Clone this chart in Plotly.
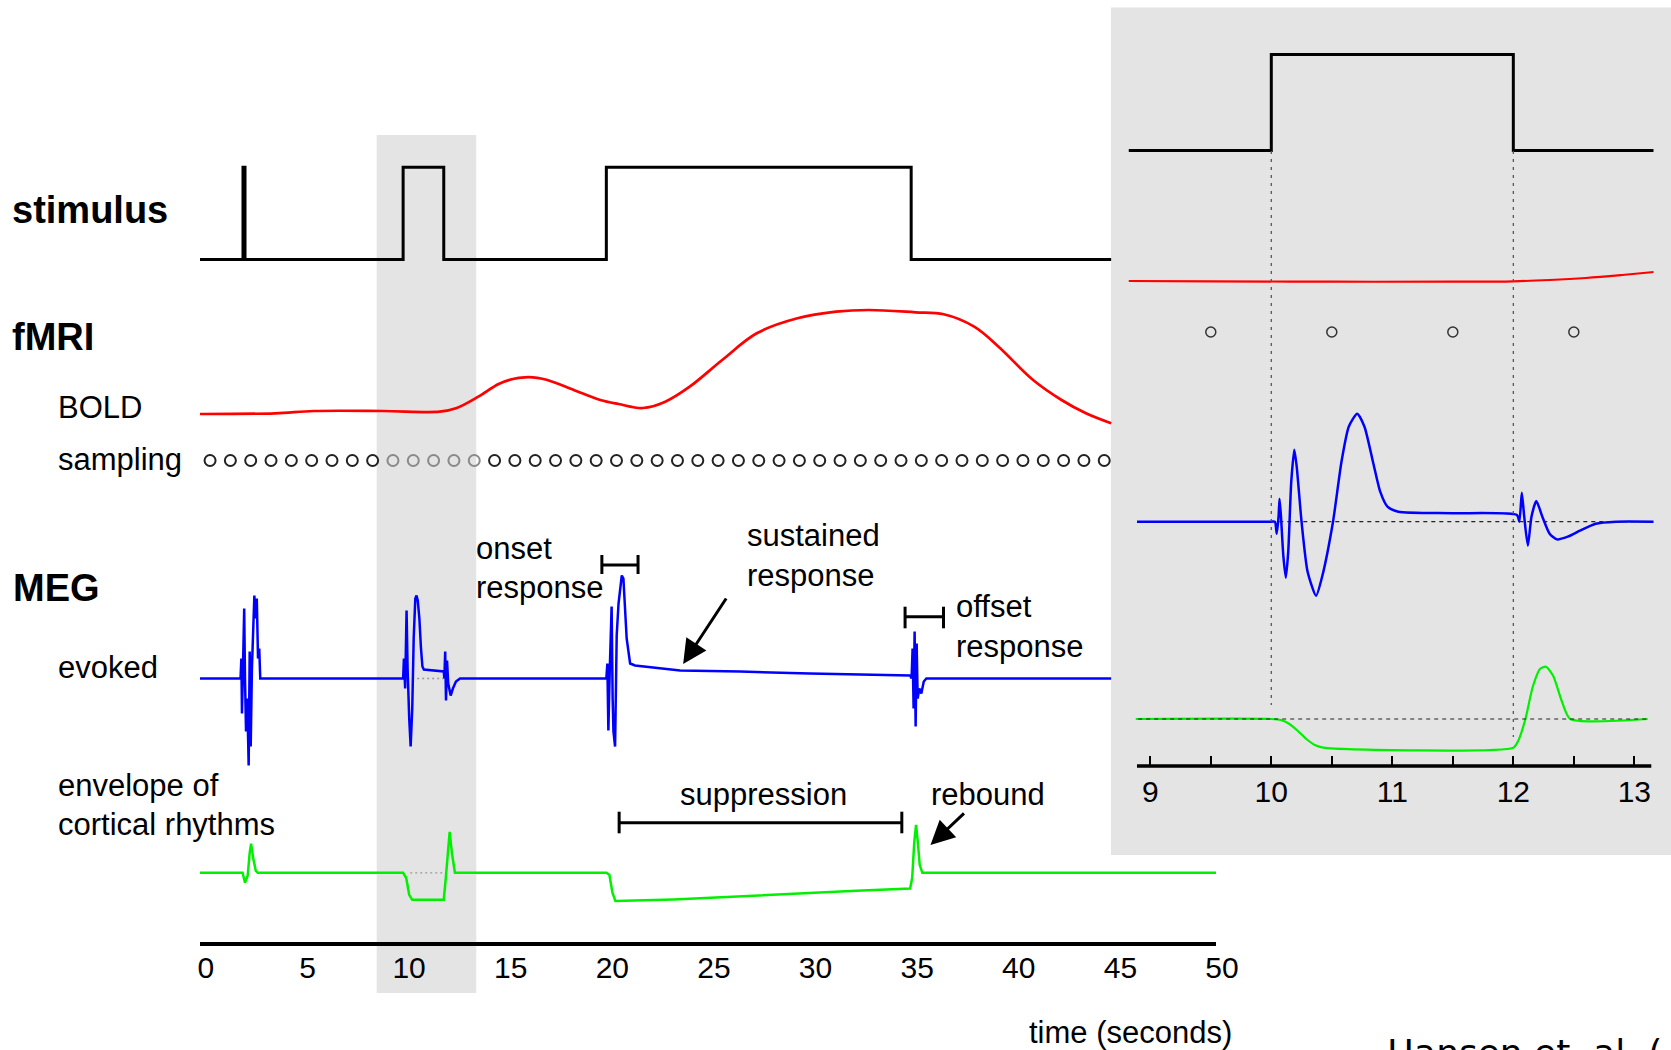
import plotly.graph_objects as go

# ---------------- data (time in seconds, amplitudes in arbitrary units) ----------------
# main time course
stim_t = [0, 2.12, 2.12, 2.22, 2.22, 10, 10, 12, 12, 20, 20, 35, 35, 44.84]
stim_v = [0, 0, 1, 1, 0, 0, 1, 1, 0, 0, 1, 1, 0, 0]

bold_t = [0, 3.7, 5.6, 9.0, 11.8, 12.6, 13.7, 14.7, 15.4, 16.0, 16.6, 17.1, 18.4, 19.7, 20.6,
          21.8, 22.9, 24.1, 25.7, 27.4, 29.4, 31.3, 32.9, 35.2, 36.6, 38.1, 39.3, 41.0, 42.4, 43.6, 44.84]
bold_v = [0, 0.7, 3, 3, 2.3, 5.7, 17.3, 30, 35, 36.7, 36.2, 34, 24, 14, 10,
          6, 12.3, 27.3, 54, 80.7, 95.7, 102.3, 104, 101.7, 99.7, 87.3, 67.3, 34, 14, 0.7, -9.3]

sample_t = [0.5, 1.5, 2.5, 3.5, 4.5, 5.5, 6.5, 7.5, 8.5, 9.5, 10.5, 11.5, 12.5, 13.5, 14.5,
            15.5, 16.5, 17.5, 18.5, 19.5, 20.5, 21.5, 22.5, 23.5, 24.5, 25.5, 26.5, 27.5, 28.5,
            29.5, 30.5, 31.5, 32.5, 33.5, 34.5, 35.5, 36.5, 37.5, 38.5, 39.5, 40.5, 41.5, 42.5,
            43.5, 44.5]

evoked_t = [0, 2.00, 2.04, 2.07, 2.12, 2.18, 2.22, 2.27, 2.33, 2.40, 2.45, 2.50, 2.56, 2.62, 2.68,
            2.74, 2.80, 2.86, 2.92, 2.97, 3.02,
            10.00, 10.04, 10.06, 10.10, 10.17, 10.22, 10.30, 10.37, 10.45, 10.52, 10.60, 10.66,
            10.72, 10.80, 10.88, 10.95, 11.02, 12.00, 12.03, 12.07, 12.11, 12.16, 12.22, 12.34,
            12.45, 12.60, 12.80,
            20.00, 20.05, 20.10, 20.17, 20.26, 20.31, 20.35, 20.43, 20.51, 20.60, 20.68, 20.76,
            20.84, 20.92, 21.00, 21.17, 21.41, 23.63, 26.58, 30.0, 34.95,
            35.02, 35.07, 35.12, 35.17, 35.22, 35.27, 35.32, 35.40, 35.50, 35.62, 35.75, 44.84]
evoked_v = [0, 0, 20, -35, 10, 70, 0, -53, -20, -87, 27, -68, 10, 60, 83,
            60, 80, 20, 30, 0, 0,
            0, 20, -5, -10, 68, 10, -40, -68, -30, 40, 80, 83,
            78, 60, 30, 12, 9, 7, 0, 27, -22, 18, -5, -17,
            -10, -3, 0,
            0, 15, -52, 10, 72, -20, -53, -68, 43, 75, 90, 103,
            100, 75, 40, 15, 13, 8, 7, 5, 3,
            0, 30, -30, 47, -48, 35, -20, -10, -15, -3, 0, 0]

env_t = [0, 2.0, 2.1, 2.22, 2.35, 2.45, 2.52, 2.62, 2.75, 2.85,
         10.0, 10.15, 10.3, 10.45, 12.0, 12.1, 12.2, 12.29, 12.4, 12.55,
         20.0, 20.15, 20.3, 20.45, 23.3, 27.5, 32.3, 34.95, 35.05, 35.15, 35.24, 35.33, 35.42,
         35.55, 50.0]
env_v = [0, 0, 0, -10, -3, 20, 29, 15, 2, 0,
         0, -5, -22, -27, -27, -5, 25, 41, 20, 0,
         0, -2, -20, -28.3, -26.7, -22.3, -18, -15.7, -5, 30, 48, 30, 8,
         0, 0]

# inset (zoom on 9-13 s)
in_stim_t = [8.82, 10, 10, 12, 12, 13.16]
in_stim_v = [0, 0, 1, 1, 0, 0]

in_bold_t = [8.82, 9.5, 10.5, 11.5, 12.0, 12.3, 12.6, 12.9, 13.16]
in_bold_v = [0, -0.3, -0.7, -0.7, -0.3, 1.0, 3.0, 6.0, 9.0]

in_sample_t = [9.5, 10.5, 11.5, 12.5]

in_evoked_t = [8.89, 10.00, 10.03, 10.045, 10.06, 10.068, 10.08, 10.10, 10.12, 10.14, 10.165,
               10.19, 10.21, 10.25, 10.30, 10.37, 10.42, 10.51, 10.58, 10.64, 10.71, 10.77,
               10.84, 10.90, 10.96, 11.05, 11.5, 12.03, 12.05, 12.07, 12.09, 12.12, 12.15,
               12.19, 12.24, 12.30, 12.36, 12.45, 12.55, 12.68, 12.85, 13.16]
in_evoked_v = [0, 0, 0, -12, 5, 23, 5, -35, -56, -30, 40,
               72, 55, 0, -50, -74, -55, 0, 60, 95, 108, 95,
               60, 30, 15, 10, 8.5, 6.7, 0, 29, 5, -24, 5,
               20.7, 5, -12, -17.7, -15, -9, -2, 0, 0]

in_env_t = [8.88, 10.0, 10.08, 10.15, 10.22, 10.29, 10.36, 10.43, 12.0, 12.04, 12.1, 12.16,
            12.22, 12.27, 12.33, 12.4, 12.47, 13.11]
in_env_v = [0, 0, -1, -5, -12, -20, -26, -28.7, -28.7, -22, 0, 32,
            50, 52.3, 43, 18, 0, 0]

main_ticks = [0, 5, 10, 15, 20, 25, 30, 35, 40, 45, 50]
inset_ticks = [9, 9.5, 10, 10.5, 11, 11.5, 12, 12.5, 13]
inset_ticktext = ["9", "", "10", "", "11", "", "12", "", "13"]

# ---------------- layout constants (pixels) ----------------
W, H = 1671, 1050
FONT = "Liberation Sans, Arial, Helvetica, sans-serif"
BLUE, RED, GREEN = "#0000ff", "#ff0000", "#00f000"
GRAY_BG = "#e4e4e4"

# row baselines (px from top) and scale (px per unit)
MAIN = dict(stim=(259.5, 92.2), bold=(414.0, 1.0), samp=460.5, evoked=(678.5, 1.0), env=(872.8, 1.0))
INSET = dict(stim=(150.5, 96.0), bold=(281.0, 1.0), samp=332.0, evoked=(521.7, 1.0), env=(719.0, 1.0))


def px(vals, row):
    base, scale = row
    return [base - scale * v for v in vals]


def fx(x):
    return x / W


def fy(y):
    return 1 - y / H


fig = go.Figure()

# ---- main traces ----
fig.add_trace(go.Scatter(x=stim_t, y=px(stim_v, MAIN["stim"]), mode="lines",
                         line=dict(color="black", width=3)))
fig.add_trace(go.Scatter(x=bold_t, y=px(bold_v, MAIN["bold"]), mode="lines",
                         line=dict(color=RED, width=2.7, shape="spline", smoothing=1.0)))
samp_cols = ["#8a8a8a" if 8.7 < t < 13.6 else "#222222" for t in sample_t]
fig.add_trace(go.Scatter(x=sample_t, y=[MAIN["samp"]] * len(sample_t), mode="markers",
                         marker=dict(symbol="circle-open", size=11, color=samp_cols,
                                     line=dict(width=2))))
fig.add_trace(go.Scatter(x=evoked_t, y=px(evoked_v, MAIN["evoked"]), mode="lines",
                         line=dict(color=BLUE, width=2.5)))
fig.add_trace(go.Scatter(x=env_t, y=px(env_v, MAIN["env"]), mode="lines",
                         line=dict(color=GREEN, width=2.5)))

# ---- inset traces ----
fig.add_trace(go.Scatter(x=in_stim_t, y=px(in_stim_v, INSET["stim"]), mode="lines", xaxis="x2",
                         line=dict(color="black", width=3)))
fig.add_trace(go.Scatter(x=in_bold_t, y=px(in_bold_v, INSET["bold"]), mode="lines", xaxis="x2",
                         line=dict(color=RED, width=2.2, shape="spline")))
fig.add_trace(go.Scatter(x=in_sample_t, y=[INSET["samp"]] * len(in_sample_t), mode="markers",
                         xaxis="x2", marker=dict(symbol="circle-open", size=10, color="#333333",
                                                 line=dict(width=1.5))))
fig.add_trace(go.Scatter(x=in_evoked_t, y=px(in_evoked_v, INSET["evoked"]), mode="lines",
                         xaxis="x2", line=dict(color=BLUE, width=2.5, shape="spline", smoothing=0.6)))
fig.add_trace(go.Scatter(x=in_env_t, y=px(in_env_v, INSET["env"]), mode="lines", xaxis="x2",
                         line=dict(color=GREEN, width=2.2, shape="spline", smoothing=0.6)))

shapes = []
# gray band in main plot and inset panel background
shapes.append(dict(type="rect", xref="x", yref="y", x0=8.7, x1=13.6, y0=135, y1=993,
                   fillcolor=GRAY_BG, line=dict(width=0), layer="below"))
shapes.append(dict(type="rect", xref="paper", yref="paper", x0=fx(1111), x1=1.0, y0=fy(855), y1=fy(7.5),
                   fillcolor=GRAY_BG, line=dict(width=0), layer="below"))
# dotted baselines inside the band
shapes.append(dict(type="line", xref="x", yref="y", x0=10.2, x1=12.0, y0=MAIN["evoked"][0], y1=MAIN["evoked"][0],
                   line=dict(color="#999999", width=1.3, dash="2px,3px"), layer="below"))
shapes.append(dict(type="line", xref="x", yref="y", x0=10.35, x1=12.0, y0=MAIN["env"][0], y1=MAIN["env"][0],
                   line=dict(color="#999999", width=1.3, dash="2px,3px"), layer="below"))
# inset dotted verticals at stimulus on/off
shapes.append(dict(type="line", xref="x2", yref="y", x0=10, x1=10, y0=151, y1=705,
                   line=dict(color="#555555", width=1.3, dash="3px,5px")))
shapes.append(dict(type="line", xref="x2", yref="y", x0=12, x1=12, y0=151, y1=737,
                   line=dict(color="#555555", width=1.3, dash="3px,5px")))
# inset dashed baselines
shapes.append(dict(type="line", xref="x2", yref="y", x0=10.0, x1=13.12, y0=INSET["evoked"][0], y1=INSET["evoked"][0],
                   line=dict(color="#222222", width=1.2, dash="4px,4px")))
shapes.append(dict(type="line", xref="x2", yref="y", x0=8.9, x1=13.1, y0=INSET["env"][0], y1=INSET["env"][0],
                   line=dict(color="#222222", width=1.2, dash="4px,4px")))
# inset x axis line
shapes.append(dict(type="line", xref="x2", yref="paper", x0=8.89, x1=13.14, y0=fy(766), y1=fy(766),
                   line=dict(color="black", width=3.5)))


# brackets
def bracket(x0, x1, y, y0, y1):
    lw = dict(color="black", width=3)
    return [dict(type="line", xref="x", yref="y", x0=x0, x1=x1, y0=y, y1=y, line=lw),
            dict(type="line", xref="x", yref="y", x0=x0, x1=x0, y0=y0, y1=y1, line=lw),
            dict(type="line", xref="x", yref="y", x0=x1, x1=x1, y0=y0, y1=y1, line=lw)]


shapes += bracket(19.78, 21.56, 565, 555, 574)      # onset
shapes += bracket(34.70, 36.59, 616.7, 606.7, 628.3)  # offset
shapes += bracket(20.63, 34.54, 822.7, 811.7, 833.3)  # suppression

anns = []


def label(text, x, y, size, bold=False, anchor="left", family=FONT):
    anns.append(dict(text=f"<b>{text}</b>" if bold else text, x=fx(x), y=fy(y), xref="paper", yref="paper",
                     xanchor=anchor, yanchor="middle", showarrow=False,
                     font=dict(family=family, size=size, color="black")))


label("stimulus", 9.5, 210, 38, bold=True)
label("fMRI", 9.5, 337, 38, bold=True)
label("MEG", 10.5, 588, 38, bold=True)
label("BOLD", 56, 407, 31)
label("sampling", 56, 459, 31)
label("evoked", 56, 667, 31)
label("envelope of", 56, 785, 31)
label("cortical rhythms", 56, 824, 31)
label("onset", 474, 548, 31)
label("response", 474, 587, 31)
label("sustained", 745, 535, 31)
label("response", 745, 575, 31)
label("offset", 954, 606, 31)
label("response", 954, 646, 31)
label("suppression", 763, 794, 31, anchor="center")
label("rebound", 929, 794, 31)
label("time (seconds)", 1234, 1032, 31, anchor="right")
anns.append(dict(text="Hansen et. al. (", x=fx(1385), y=fy(1030), xref="paper", yref="paper",
                 xanchor="left", yanchor="top", showarrow=False,
                 font=dict(family="DejaVu Sans, sans-serif", size=36, color="black")))

# arrows
anns.append(dict(text="", x=23.78, y=664, xref="x", yref="y", ax=44, ay=-67, axref="pixel", ayref="pixel",
                 showarrow=True, arrowhead=2, arrowsize=1.6, arrowwidth=3, arrowcolor="black"))
anns.append(dict(text="", x=35.95, y=845, xref="x", yref="y", ax=35, ay=-33, axref="pixel", ayref="pixel",
                 showarrow=True, arrowhead=2, arrowsize=1.6, arrowwidth=3, arrowcolor="black"))

fig.update_layout(
    template="none",
    width=W, height=H, autosize=False,
    margin=dict(l=0, r=0, t=0, b=0, pad=0, autoexpand=False),
    paper_bgcolor="white", plot_bgcolor="rgba(0,0,0,0)",
    showlegend=False,
    shapes=shapes, annotations=anns,
    xaxis=dict(domain=[fx(199.9), fx(1216.0)], range=[0, 50], anchor="free", position=fy(944),
               automargin=False,
               showline=True, linecolor="black", linewidth=3.5, ticks="", showgrid=False, zeroline=False,
               tickvals=main_ticks, ticktext=[str(t) for t in main_ticks],
               tickfont=dict(family=FONT, size=30, color="black"), ticklabelshift=6,
               ticklabelstandoff=-4),
    xaxis2=dict(domain=[fx(1128.5), fx(1653.7)], range=[8.82, 13.16], anchor="free", position=fy(766),
                automargin=False,
                showline=False, ticks="inside", ticklen=10, tickwidth=1.5, tickcolor="black",
                showgrid=False, zeroline=False, tickvals=inset_ticks, ticktext=inset_ticktext,
                tickfont=dict(family=FONT, size=30, color="black"), ticklabelstandoff=5),
    yaxis=dict(domain=[0, 1], range=[H, 0], visible=False, showgrid=False, zeroline=False,
               automargin=False),
)

fig.write_html("out.html", config={"responsive": False, "displayModeBar": False},
               post_script="document.body.style.margin='0px';document.body.style.overflow='hidden';")
